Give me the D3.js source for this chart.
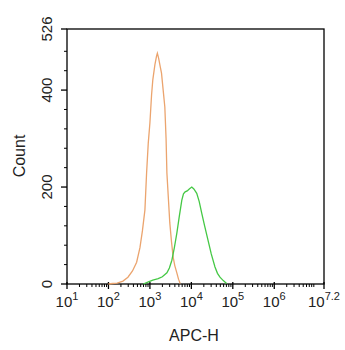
<!DOCTYPE html>
<html><head><meta charset="utf-8">
<script src="https://cdn.jsdelivr.net/npm/d3@7"></script>
<style>body{margin:0;background:#fff;}svg{display:block;font-family:"Liberation Sans",Arial,sans-serif;}</style>
</head><body>
<svg id="c" width="345" height="350"></svg>
<script>
// log10(APC-H) positions and counts
const orangeLog = [2.00,2.10,2.21,2.35,2.47,2.58,2.68,2.76,2.82,2.88,2.92,2.96,3.00,3.04,3.07,3.12,3.16,3.18,3.21,3.25,3.28,3.32,3.36,3.39,3.41,3.45,3.48,3.52,3.56,3.60,3.65,3.69,3.73];
const orangeCnt = [0,1,2,6,14,27,45,75,110,153,229,290,332,390,421,452,470,476,466,448,435,400,365,300,229,170,126,88,56,38,23,10,1];
const greenLog = [2.84,2.95,3.07,3.20,3.30,3.41,3.47,3.53,3.59,3.65,3.71,3.77,3.81,3.85,3.90,3.95,4.01,4.06,4.13,4.19,4.25,4.32,4.40,4.48,4.57,4.63,4.69,4.77,4.85];
const greenCnt = [0,4,8,11,15,23,33,49,75,105,140,173,186,190,192,196,200,196,187,170,146,120,91,62,35,22,14,7,1];
const xMajorExp = [1,2,3,4,5,6,7.2];
const xMajorLabels = ["1","2","3","4","5","6","7.2"];
const yMajor = [0,200,400,526];
const yMinor = [40,80,120,160,240,280,320,360,440,480];

const svg = d3.select("#c");
const L=67, R=324, T=29, B=284;
const x = d3.scaleLinear().domain([1,7.2]).range([L,R]);
const y = d3.scaleLinear().domain([0,526]).range([B,T]);

// minor log ticks
const xMinor = [];
for (let d=1; d<7; d++) for (let k=2; k<=9; k++) { const v = d+Math.log10(k); if (v<7.2) xMinor.push(v); }

svg.append("rect").attr("x",L).attr("y",T).attr("width",R-L).attr("height",B-T)
  .attr("fill","none").attr("stroke","#000").attr("stroke-width",1.3);

const g = svg.append("g");
g.selectAll(".xm").data(xMinor).join("line")
  .attr("x1",d=>x(d)).attr("x2",d=>x(d)).attr("y1",B).attr("y2",B+3)
  .attr("stroke","#000").attr("stroke-width",1);
g.selectAll(".xM").data(xMajorExp).join("line")
  .attr("x1",d=>x(d)).attr("x2",d=>x(d)).attr("y1",B-2).attr("y2",B+5)
  .attr("stroke","#000").attr("stroke-width",1.3);
g.selectAll(".ym").data(yMinor).join("line")
  .attr("x1",L-3).attr("x2",L).attr("y1",d=>y(d)).attr("y2",d=>y(d))
  .attr("stroke","#000").attr("stroke-width",1);
g.selectAll(".yM").data(yMajor).join("line")
  .attr("x1",L-6).attr("x2",L).attr("y1",d=>y(d)).attr("y2",d=>y(d))
  .attr("stroke","#000").attr("stroke-width",1.3);

// x labels
const xl = svg.selectAll(".xl").data(xMajorExp).join("text")
  .attr("x",d=>x(d)).attr("y",307).attr("text-anchor","middle")
  .attr("font-size",15).attr("fill","#222");
xl.append("tspan").text("10");
xl.append("tspan").attr("dy",-7).attr("font-size",11).text((d,i)=>xMajorLabels[i]);

// y labels
svg.selectAll(".yl").data(yMajor).join("text")
  .attr("transform",d=>`translate(52,${y(d)}) rotate(-90)`)
  .attr("text-anchor","middle").attr("font-size",15).attr("fill","#222")
  .text(d=>d);

svg.append("text").attr("transform","translate(25,156) rotate(-90)")
  .attr("text-anchor","middle").attr("font-size",16).attr("fill","#222").text("Count");
svg.append("text").attr("x",194).attr("y",341).attr("text-anchor","middle")
  .attr("font-size",16).attr("fill","#222").text("APC-H");

const line = d3.line().x(d=>x(d[0])).y(d=>y(d[1]));
svg.append("path").datum(orangeLog.map((v,i)=>[v,orangeCnt[i]]))
  .attr("d",line).attr("fill","none").attr("stroke","#EBA46E").attr("stroke-width",1.3);
svg.append("path").datum(greenLog.map((v,i)=>[v,greenCnt[i]]))
  .attr("d",line).attr("fill","none").attr("stroke","#45C845").attr("stroke-width",1.3);
</script>
</body></html>
